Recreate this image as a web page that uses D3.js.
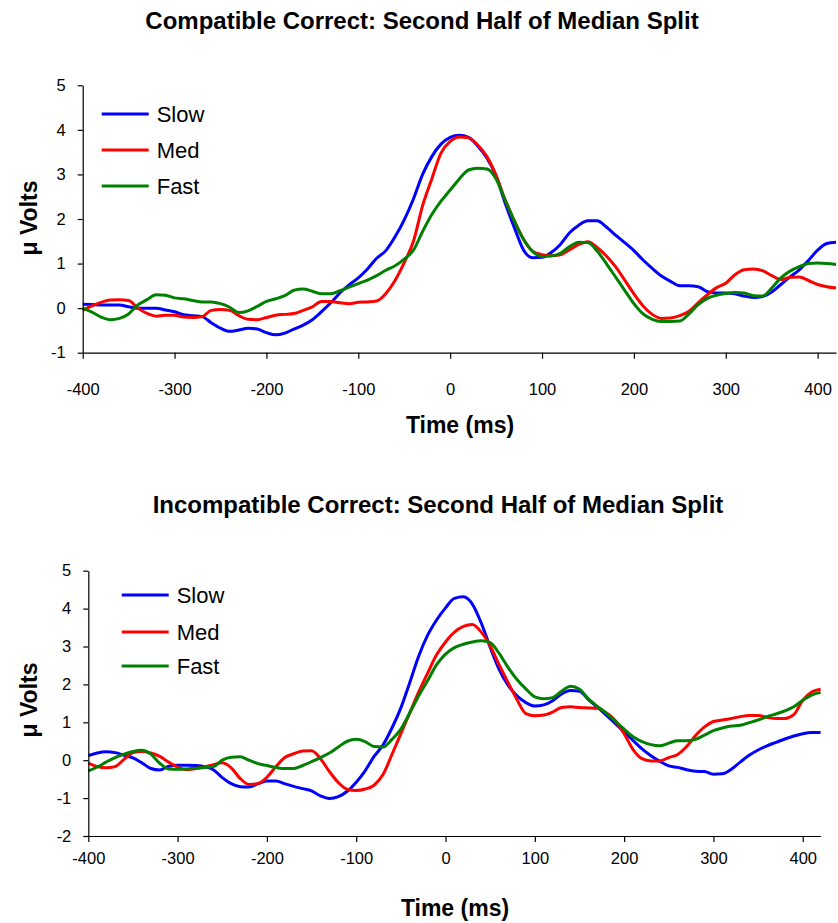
<!DOCTYPE html>
<html>
<head>
<meta charset="utf-8">
<script src="https://cdn.jsdelivr.net/npm/d3@7"></script>
<style>
  html, body { margin: 0; padding: 0; background: #fff; }
  svg { display: block; font-family: "Liberation Sans", Arial, sans-serif; }
</style>
</head>
<body>
<svg id="chart" width="838" height="923"></svg>
<script>
// ---------- DATA ----------
const seriesNames = ["Slow", "Med", "Fast"];
const seriesColors = ["#0000FF", "#FF0000", "#008000"];

const timeMs = [-400,-390,-380,-370,-360,-350,-340,-330,-320,-310,-300,-290,-280,-270,-260,-250,-240,-230,-220,-210,
  -200,-190,-180,-170,-160,-150,-140,-130,-120,-110,-100,-90,-80,-70,-60,-50,-40,-30,-20,-10,
  0,10,20,30,40,50,60,70,80,90,100,110,120,130,140,150,160,170,180,190,
  200,210,220,230,240,250,260,270,280,290,300,310,320,330,340,350,360,370,380,390,400,410,420];

// Compatible Correct (top chart)
const compSlow = [0.09,0.08,0.07,0.07,0.07,0.03,0.0,0.0,0.0,-0.04,-0.08,-0.15,-0.17,-0.19,-0.33,-0.45,-0.52,-0.49,-0.45,-0.47,
  -0.55,-0.6,-0.56,-0.47,-0.38,-0.26,-0.08,0.12,0.34,0.52,0.68,0.88,1.12,1.29,1.6,1.98,2.45,3.0,3.4,3.68,
  3.83,3.88,3.83,3.64,3.37,2.96,2.35,1.8,1.3,1.13,1.14,1.25,1.43,1.69,1.86,1.96,1.96,1.82,1.64,1.47,
  1.29,1.08,0.89,0.72,0.6,0.5,0.5,0.48,0.37,0.34,0.34,0.32,0.27,0.24,0.26,0.36,0.53,0.7,0.86,1.07,1.3,1.45,1.48];
const compMed = [-0.05,0.05,0.13,0.18,0.19,0.17,0.0,-0.12,-0.18,-0.16,-0.16,-0.2,-0.21,-0.19,-0.05,-0.03,-0.05,-0.17,-0.25,-0.26,
  -0.21,-0.16,-0.14,-0.12,-0.05,0.03,0.15,0.15,0.12,0.1,0.13,0.14,0.16,0.33,0.62,1.02,1.5,2.3,2.9,3.48,
  3.74,3.84,3.82,3.66,3.4,2.98,2.42,1.95,1.54,1.27,1.2,1.18,1.2,1.31,1.43,1.49,1.36,1.17,0.93,0.63,
  0.32,0.05,-0.14,-0.23,-0.22,-0.17,-0.07,0.12,0.3,0.46,0.56,0.75,0.86,0.88,0.84,0.73,0.64,0.69,0.7,0.62,0.53,0.48,0.45];
const compFast = [0.0,-0.09,-0.2,-0.26,-0.23,-0.13,0.07,0.19,0.3,0.29,0.23,0.21,0.17,0.14,0.14,0.1,0.02,-0.1,-0.06,0.04,
  0.15,0.21,0.28,0.4,0.43,0.38,0.32,0.32,0.39,0.47,0.55,0.63,0.73,0.85,0.95,1.1,1.3,1.72,2.1,2.4,
  2.65,2.9,3.1,3.14,3.12,2.9,2.42,1.95,1.54,1.27,1.16,1.17,1.23,1.38,1.48,1.47,1.28,1.0,0.7,0.4,
  0.1,-0.13,-0.25,-0.3,-0.3,-0.29,-0.13,0.08,0.22,0.29,0.33,0.35,0.34,0.28,0.27,0.45,0.68,0.83,0.93,1.0,1.01,1.0,0.98];

// Incompatible Correct (bottom chart)
const incSlow = [0.12,0.19,0.22,0.2,0.13,0.06,-0.07,-0.22,-0.26,-0.16,-0.13,-0.13,-0.14,-0.17,-0.25,-0.46,-0.62,-0.7,-0.71,-0.62,
  -0.55,-0.55,-0.62,-0.69,-0.75,-0.81,-0.94,-1.01,-0.96,-0.82,-0.58,-0.28,0.1,0.4,0.85,1.38,2.05,2.75,3.3,3.7,
  4.02,4.27,4.31,4.12,3.62,2.98,2.4,1.98,1.7,1.52,1.43,1.46,1.57,1.75,1.84,1.82,1.6,1.4,1.19,0.97,
  0.74,0.52,0.3,0.12,-0.03,-0.15,-0.19,-0.25,-0.29,-0.3,-0.37,-0.36,-0.24,-0.05,0.13,0.27,0.38,0.47,0.56,0.64,0.7,0.73,0.73];
const incMed = [-0.08,-0.17,-0.2,-0.17,0.02,0.2,0.23,0.19,0.1,-0.05,-0.18,-0.25,-0.22,-0.18,-0.12,-0.07,-0.2,-0.48,-0.64,-0.62,
  -0.45,-0.17,0.07,0.17,0.24,0.25,0.04,-0.3,-0.59,-0.77,-0.8,-0.76,-0.66,-0.38,0.15,0.7,1.25,1.8,2.3,2.78,
  3.12,3.38,3.53,3.58,3.38,3.02,2.52,2.05,1.6,1.23,1.17,1.19,1.27,1.39,1.41,1.39,1.38,1.37,1.25,1.05,
  0.7,0.28,0.04,-0.02,-0.02,0.07,0.15,0.36,0.65,0.88,1.02,1.06,1.1,1.15,1.18,1.18,1.13,1.1,1.1,1.2,1.58,1.8,1.87];
const incFast = [-0.28,-0.18,-0.05,0.07,0.16,0.23,0.26,0.16,-0.08,-0.23,-0.24,-0.23,-0.21,-0.19,-0.17,0.0,0.08,0.09,0.0,-0.09,
  -0.14,-0.19,-0.22,-0.22,-0.14,-0.04,0.07,0.19,0.35,0.5,0.55,0.49,0.36,0.35,0.55,0.82,1.25,1.7,2.1,2.52,
  2.8,2.97,3.06,3.12,3.15,3.1,2.82,2.45,2.13,1.88,1.67,1.62,1.65,1.82,1.95,1.87,1.62,1.42,1.24,1.03,
  0.82,0.62,0.49,0.41,0.38,0.45,0.51,0.51,0.55,0.66,0.78,0.85,0.9,0.92,0.99,1.06,1.15,1.22,1.3,1.41,1.58,1.72,1.79];

const xTickValues = [-400, -300, -200, -100, 0, 100, 200, 300, 400];
const xTickLabels = ["-400", "-300", "-200", "-100", "0", "100", "200", "300", "400"];
const yTicksTop = [-1, 0, 1, 2, 3, 4, 5];
const yTicksBottom = [-2, -1, 0, 1, 2, 3, 4, 5];
const yLabelsTop = ["-1", "0", "1", "2", "3", "4", "5"];
const yLabelsBottom = ["-2", "-1", "0", "1", "2", "3", "4", "5"];
const titles = ["Compatible Correct: Second Half of Median Split", "Incompatible Correct: Second Half of Median Split"];
const xAxisTitle = "Time (ms)";
const yAxisTitle = "\u03bc Volts";

// ---------- DRAW ----------
const svg = d3.select("#chart");
const FONT = '"Liberation Sans", Arial, sans-serif';

function drawPanel(cfg) {
  const g = svg.append("g");
  const x = d3.scaleLinear().domain([-400, 420]).range([cfg.left, cfg.right]);
  const y = d3.scaleLinear().domain(cfg.yDomain).range([cfg.bottom, cfg.top]);

  // title
  g.append("text").attr("x", cfg.titleX).attr("y", cfg.titleY)
    .attr("text-anchor", "middle").attr("font-weight", "bold")
    .attr("font-size", cfg.titleSize).attr("fill", "#000").text(cfg.title);

  // series
  const line = d3.line().x((d, i) => x(timeMs[i])).y(d => y(d)).curve(d3.curveMonotoneX);
  cfg.series.forEach((vals, k) => {
    g.append("path").datum(vals).attr("d", line)
      .attr("fill", "none").attr("stroke", seriesColors[k])
      .attr("stroke-width", 3).attr("stroke-linejoin", "round");
  });

  // y axis
  const ya = g.append("g").attr("transform", `translate(${cfg.left},0)`)
    .call(d3.axisLeft(y).tickValues(cfg.yTicks).tickFormat((d, i) => cfg.yLabels[i])
      .tickSize(5).tickSizeOuter(0).tickPadding(cfg.yPad));
  // x axis
  const xa = g.append("g").attr("transform", `translate(0,${cfg.bottom})`)
    .call(d3.axisBottom(x).tickValues(xTickValues).tickFormat((d, i) => xTickLabels[i])
      .tickSize(6).tickSizeOuter(0).tickPadding(cfg.xPad));
  [ya, xa].forEach(a => {
    a.selectAll("path.domain").attr("stroke", "#000").attr("stroke-width", 1.2);
    a.selectAll(".tick line").attr("stroke", "#000").attr("stroke-width", 1.2);
    a.selectAll("text").attr("font-family", FONT).attr("font-size", 16.5).attr("fill", "#000");
  });

  // axis titles
  g.append("text").attr("x", cfg.xTitleX).attr("y", cfg.xTitleY)
    .attr("text-anchor", "middle").attr("font-weight", "bold").attr("font-size", 23)
    .attr("fill", "#000").text(xAxisTitle);
  g.append("text").attr("transform", `translate(${cfg.yTitleX},${cfg.yTitleY}) rotate(-90)`)
    .attr("text-anchor", "middle").attr("font-weight", "bold").attr("font-size", 23)
    .attr("fill", "#000").text(yAxisTitle);

  // legend
  seriesNames.forEach((name, k) => {
    const ly = cfg.legendY[k];
    g.append("line").attr("x1", cfg.legendX).attr("x2", cfg.legendX + 47)
      .attr("y1", ly).attr("y2", ly).attr("stroke", seriesColors[k]).attr("stroke-width", 3);
    g.append("text").attr("x", cfg.legendX + 55).attr("y", ly).attr("dy", "0.35em")
      .attr("font-size", 22).attr("fill", "#000").text(name);
  });
}

drawPanel({
  title: titles[0], titleX: 422, titleY: 29, titleSize: 24,
  left: 82.7, right: 836, top: 85.3, bottom: 352.7, yDomain: [-1, 5],
  yTicks: yTicksTop, yLabels: yLabelsTop, yPad: 12, xPad: 25,
  series: [compSlow, compMed, compFast],
  xTitleX: 460, xTitleY: 433, yTitleX: 37, yTitleY: 218,
  legendX: 101.7, legendY: [114, 150, 186]
});

drawPanel({
  title: titles[1], titleX: 438, titleY: 513, titleSize: 24,
  left: 88.3, right: 820.6, top: 570.7, bottom: 836, yDomain: [-2, 5],
  yTicks: yTicksBottom, yLabels: yLabelsBottom, yPad: 12, xPad: 10,
  series: [incSlow, incMed, incFast],
  xTitleX: 455, xTitleY: 916, yTitleX: 37, yTitleY: 700,
  legendX: 121.7, legendY: [595, 632, 666]
});
</script>
</body>
</html>
